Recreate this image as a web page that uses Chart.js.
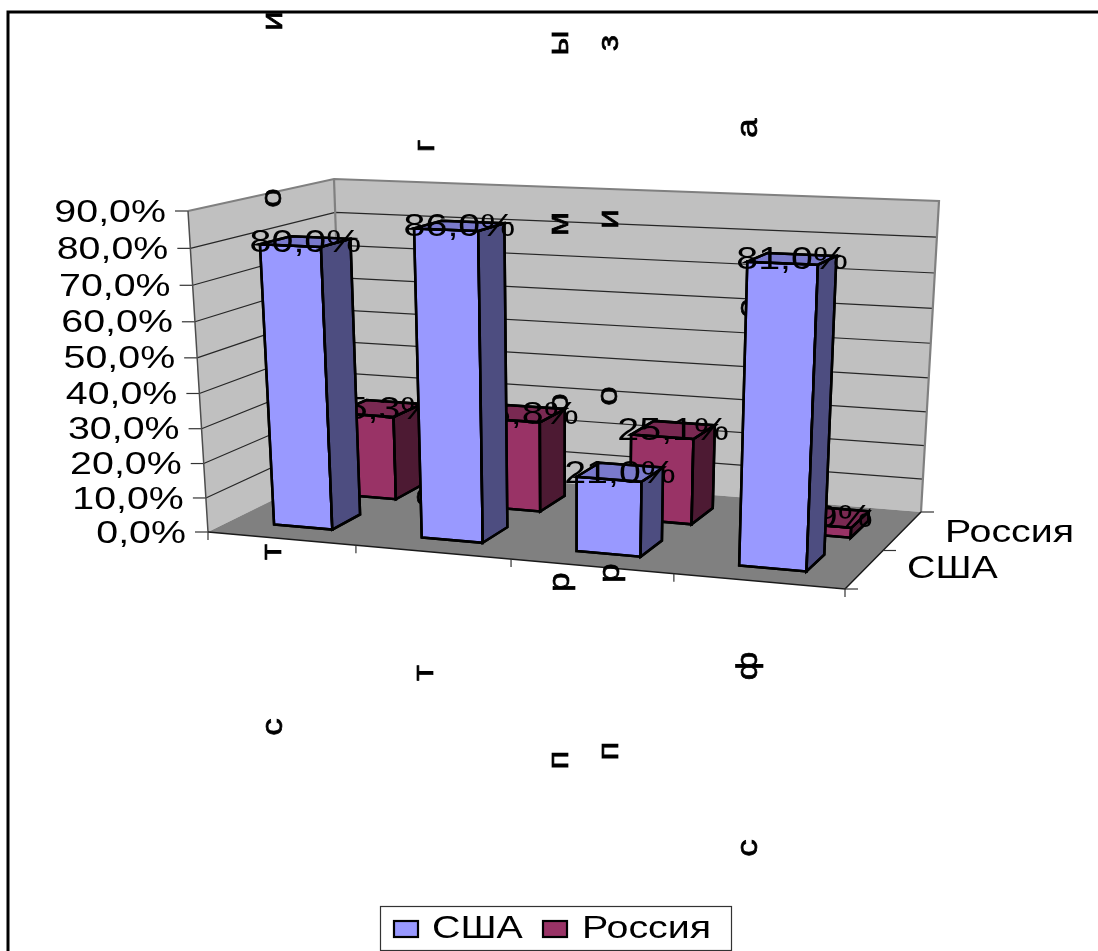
<!DOCTYPE html>
<html>
<head>
<meta charset="utf-8">
<style>
  html, body { margin: 0; padding: 0; background: #ffffff; overflow: hidden; }
  canvas { display: block; }
</style>
<script src="https://cdn.jsdelivr.net/npm/chart.js@4/dist/chart.umd.js"></script>
</head>
<body>
<canvas id="chart3d" width="1098" height="951"></canvas>
<script>
// the chart's values
var seriesNames = ['США', 'Россия'];
var usaValues = [80.0, 86.0, 21.0, 81.0];
var russiaValues = [25.3, 26.8, 25.1, 2.9];
var valueTicks = [0, 10, 20, 30, 40, 50, 60, 70, 80, 90];
var categoryLetters = [
    ['с', 'т', 'о', 'и'],
    ['т', 'о', 'г'],
    ['п', 'р', 'о', 'м', 'ы', 'п', 'р', 'о', 'и', 'з'],
    ['с', 'ф', 'е', 'а']
];

// what the two series look like: front, side, top
var usaFaces = ['#9999ff', '#4d4d80', '#7a7acc'];
var russiaFaces = ['#993366', '#4d1a33', '#7a2952'];

// corners of the 3d box on screen, b/t = bottom/top, f/b = front/back, l/r = left/right
var box = {
    bfl: [208, 532], tfl: [188, 211],
    bbl: [344, 465], tbl: [334, 179],
    bfr: [845, 589], tfr: [860, 237],
    bbr: [921, 512], tbr: [939, 201]
};
var perspectiveU = 1.102;
var perspectiveV = 1.054;

// where the broken category letters ended up, same order as categoryLetters
var letterSpots = [
    [[274, 727], [273, 552], [273, 198], [274, 21]],
    [[425, 673], [425, 497], [426, 146]],
    [[560, 760], [561, 582], [560, 403], [560, 224], [560, 43],
     [610, 751], [611, 573], [609, 396], [610, 219], [610, 43]],
    [[749, 848], [749, 666], [749, 308], [749, 128]]
];

var baseFont = '31px "Liberation Sans"';

function lerp(a, b, t) {
    return [a[0] + (b[0] - a[0]) * t, a[1] + (b[1] - a[1]) * t];
}

// u along the categories, v up the values, w into the depth, all 0..1
function project(u, v, w) {
    var t = u / (u + perspectiveU * (1 - u));
    var h = v / (v + perspectiveV * (1 - v));
    var bottomFront = lerp(box.bfl, box.bfr, t);
    var bottomBack = lerp(box.bbl, box.bbr, t);
    var topFront = lerp(box.tfl, box.tfr, t);
    var topBack = lerp(box.tbl, box.tbr, t);
    return lerp(lerp(bottomFront, bottomBack, w), lerp(topFront, topBack, w), h);
}

function poly(ctx, points, fill, stroke, lineWidth) {
    ctx.beginPath();
    ctx.moveTo(points[0][0], points[0][1]);
    for (var i = 1; i < points.length; i++) {
        ctx.lineTo(points[i][0], points[i][1]);
    }
    if (fill) {
        ctx.closePath();
        ctx.fillStyle = fill;
        ctx.fill();
    }
    if (stroke) {
        ctx.strokeStyle = stroke;
        ctx.lineWidth = lineWidth;
        ctx.lineJoin = 'miter';
        ctx.stroke();
    }
}

// the original text is stretched sideways
function wideText(ctx, text, x, y, align) {
    ctx.save();
    ctx.translate(x, y);
    ctx.scale(1.27, 1);
    ctx.font = baseFont;
    ctx.fillStyle = '#000000';
    ctx.textAlign = align;
    ctx.textBaseline = 'middle';
    ctx.fillText(text, 0, 0);
    ctx.restore();
}

function upText(ctx, text, x, y) {
    ctx.save();
    ctx.translate(x, y);
    ctx.rotate(-Math.PI / 2);
    ctx.scale(1.2, 1);
    ctx.font = '29px "Liberation Sans"';
    ctx.fillStyle = '#000000';
    ctx.strokeStyle = '#000000';
    ctx.lineWidth = 0.7;
    ctx.textAlign = 'center';
    ctx.textBaseline = 'middle';
    ctx.fillText(text, 0, 0);
    ctx.strokeText(text, 0, 0);
    ctx.restore();
}

function drawWalls(ctx, chart) {
    var yScale = chart.scales.y;
    var area = chart.chartArea;

    poly(ctx, [project(0, 0, 0), project(0, 1, 0), project(0, 1, 1), project(0, 0, 1)], '#c0c0c0');
    poly(ctx, [project(0, 0, 1), project(0, 1, 1), project(1, 1, 1), project(1, 0, 1)], '#c0c0c0');
    poly(ctx, [project(0, 0, 0), project(1, 0, 0), project(1, 0, 1), project(0, 0, 1)], '#808080');

    // gridlines and value ticks
    for (var i = 0; i < valueTicks.length; i++) {
        var v = (area.bottom - yScale.getPixelForValue(valueTicks[i])) / area.height;
        var front = project(0, v, 0);
        if (i > 0 && i < valueTicks.length - 1) {
            poly(ctx, [front, project(0, v, 1), project(1, v, 1)], null, '#262626', 1.2);
        }
        poly(ctx, [[front[0] - 13, front[1]], front], null, '#333333', 1.2);
        wideText(ctx, valueTicks[i].toFixed(1).replace('.', ',') + '%', front[0] - 22, front[1] + 2, 'right');
    }

    // wall edges
    poly(ctx, [project(0, 1, 0), project(0, 1, 1), project(1, 1, 1), project(1, 0, 1)], null, '#808080', 2.2);
    poly(ctx, [project(0, 1, 1), project(0, 0, 1)], null, '#808080', 2.2);
    poly(ctx, [project(0, 1, 0), project(0, 0, 0)], null, '#4d4d4d', 1.5);

    // floor edges and ticks
    poly(ctx, [project(0, 0, 0), project(1, 0, 0), project(1, 0, 1)], null, '#1a1a1a', 1.5);
    for (var c = 0; c <= categoryLetters.length; c++) {
        var p = project(c / categoryLetters.length, 0, 0);
        poly(ctx, [p, [p[0], p[1] + 8]], null, '#333333', 1.2);
    }
    for (var d = 0; d <= seriesNames.length; d++) {
        var q = project(1, 0, d / seriesNames.length);
        poly(ctx, [q, [q[0] + 13, q[1]]], null, '#333333', 1.2);
    }
    var depthLabelSpots = [[907, 569], [945, 533]];
    for (var s = 0; s < seriesNames.length; s++) {
        wideText(ctx, seriesNames[s], depthLabelSpots[s][0], depthLabelSpots[s][1], 'left');
    }
}

function drawLetters(ctx) {
    for (var i = 0; i < categoryLetters.length; i++) {
        for (var j = 0; j < categoryLetters[i].length; j++) {
            upText(ctx, categoryLetters[i][j], letterSpots[i][j][0], letterSpots[i][j][1]);
        }
    }
}

function drawSeries(ctx, chart, index, faces, depth, shift) {
    var area = chart.chartArea;
    var bars = chart.getDatasetMeta(index).data;
    var values = chart.data.datasets[index].data;
    for (var i = 0; i < bars.length; i++) {
        var bar = bars[i];
        var u0 = (bar.x - bar.width / 2 - area.left) / area.width + shift;
        var u1 = (bar.x + bar.width / 2 - area.left) / area.width + shift;
        var v = (area.bottom - bar.y) / area.height;
        var w0 = depth[0], w1 = depth[1];

        poly(ctx, [project(u0, 0, w0), project(u1, 0, w0), project(u1, v, w0), project(u0, v, w0)], faces[0], '#000000', 2.5);
        ctx.closePath();
        ctx.stroke();
        poly(ctx, [project(u1, 0, w0), project(u1, 0, w1), project(u1, v, w1), project(u1, v, w0)], faces[1], '#000000', 2.5);
        ctx.closePath();
        ctx.stroke();
        poly(ctx, [project(u0, v, w0), project(u1, v, w0), project(u1, v, w1), project(u0, v, w1)], faces[2], '#000000', 2.5);
        ctx.closePath();
        ctx.stroke();

        var mid = project((u0 + u1) / 2, v, (w0 + w1) / 2);
        wideText(ctx, values[i].toFixed(1).replace('.', ',') + '%', mid[0], mid[1] + 2, 'center');
    }
}

function drawLegend(ctx) {
    ctx.fillStyle = '#ffffff';
    ctx.fillRect(380, 906, 351, 44);
    ctx.strokeStyle = '#333333';
    ctx.lineWidth = 1.2;
    ctx.strokeRect(380.5, 906.5, 351, 44);
    var swatchX = [394, 543];
    var textX = [432, 582];
    var faces = [usaFaces, russiaFaces];
    for (var i = 0; i < seriesNames.length; i++) {
        ctx.fillStyle = faces[i][0];
        ctx.fillRect(swatchX[i], 921, 24, 16);
        ctx.strokeStyle = '#000000';
        ctx.lineWidth = 2.2;
        ctx.strokeRect(swatchX[i], 921, 24, 16);
        wideText(ctx, seriesNames[i], textX[i], 929, 'left');
    }
}

var scene3d = {
    id: 'scene3d',
    // the flat bars are replaced by boxes worked out from their scale positions
    beforeDatasetsDraw: function (chart) {
        var ctx = chart.ctx;
        ctx.save();
        ctx.fillStyle = '#ffffff';
        ctx.fillRect(0, 0, chart.width, chart.height);
        drawWalls(ctx, chart);
        drawLetters(ctx);
        drawSeries(ctx, chart, 1, russiaFaces, [0.62, 0.84], 0.012);
        drawSeries(ctx, chart, 0, usaFaces, [0.17, 0.39], 0);
        drawLegend(ctx);

        // outer frame runs off the right and bottom of the picture
        poly(ctx, [[8, 951], [8, 12], [1098, 12]], null, '#000000', 3);
        ctx.restore();
        return false;
    }
};

var labels = categoryLetters.map(function (letters) { return letters.join(''); });

var chart3d = new Chart(document.getElementById('chart3d').getContext('2d'), {
    type: 'bar',
    data: {
        labels: labels,
        datasets: [
            { label: seriesNames[0], data: usaValues, backgroundColor: usaFaces[0], grouped: false },
            { label: seriesNames[1], data: russiaValues, backgroundColor: russiaFaces[0], grouped: false }
        ]
    },
    plugins: [scene3d],
    options: {
        responsive: false,
        animation: false,
        devicePixelRatio: 1,
        categoryPercentage: 1,
        barPercentage: 0.4,
        layout: { padding: 0 },
        scales: {
            x: { display: false },
            y: { display: false, min: 0, max: 90, ticks: { stepSize: 10 } }
        },
        plugins: {
            legend: { display: false },
            tooltip: { enabled: false }
        }
    }
});
</script>
</body>
</html>
